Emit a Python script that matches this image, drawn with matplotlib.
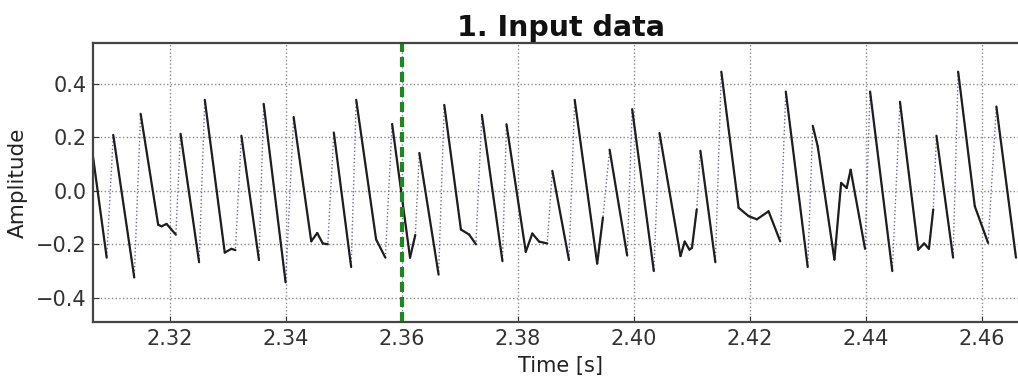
import numpy as np
import matplotlib
matplotlib.use("Agg")
import matplotlib.pyplot as plt

# knot points of the signal
# rise = 1 means the segment leading into this point is a fast upstroke
t = [2.30675, 2.30911, 2.31024, 2.31386, 2.31496, 2.31798, 2.31858, 2.31943,
     2.32103, 2.32184, 2.32504, 2.32602, 2.32946, 2.33061, 2.33130, 2.33233,
     2.33536, 2.33617, 2.33995, 2.34133, 2.34437, 2.34540, 2.34636, 2.34723,
     2.34826, 2.35125, 2.35212, 2.35555, 2.35715, 2.35831, 2.36140, 2.36231,
     2.36300, 2.36632, 2.36730, 2.37017, 2.37160, 2.37275, 2.37378, 2.37733,
     2.37802, 2.38135, 2.38248, 2.38364, 2.38506, 2.38593, 2.38880, 2.38978,
     2.39366, 2.39465, 2.39580, 2.39883, 2.39969, 2.40342, 2.40440, 2.40802,
     2.40875, 2.40956, 2.41000, 2.41082, 2.41145, 2.41403, 2.41506, 2.41804,
     2.41976, 2.42118, 2.42320, 2.42521, 2.42617, 2.42995, 2.43082, 2.43168,
     2.43455, 2.43571, 2.43667, 2.43735, 2.43983, 2.44070, 2.44453, 2.44585,
     2.44899, 2.45002, 2.45084, 2.45159, 2.45214, 2.45501, 2.45588, 2.45875,
     2.46104, 2.46247, 2.46585]
amp = [0.127, -0.250, 0.208, -0.324, 0.287, -0.127, -0.133, -0.124,
       -0.164, 0.212, -0.267, 0.339, -0.231, -0.217, -0.222, 0.205,
       -0.259, 0.324, -0.342, 0.275, -0.189, -0.158, -0.197, -0.200,
       0.217, -0.285, 0.339, -0.182, -0.250, 0.249, -0.250, -0.165,
       0.141, -0.313, 0.320, -0.145, -0.164, -0.200, 0.283, -0.263,
       0.248, -0.228, -0.160, -0.190, -0.197, 0.074, -0.259, 0.339,
       -0.272, -0.100, 0.153, -0.242, 0.304, -0.300, 0.215, -0.244,
       -0.190, -0.220, -0.213, -0.070, 0.149, -0.267, 0.444, -0.064,
       -0.095, -0.107, -0.077, -0.189, 0.370, -0.285, 0.242, 0.165,
       -0.257, 0.029, 0.010, 0.078, -0.217, 0.370, -0.300, 0.332,
       -0.220, -0.197, -0.217, -0.070, 0.205, -0.250, 0.444, -0.058,
       -0.195, 0.314, -0.250]
rise = [0, 0, 1, 0, 1, 0, 0, 0,
        0, 1, 0, 1, 0, 0, 0, 1,
        0, 1, 0, 1, 0, 0, 0, 0,
        1, 0, 1, 0, 0, 1, 0, 0,
        1, 0, 1, 0, 0, 0, 1, 0,
        1, 0, 0, 0, 0, 1, 0, 1,
        0, 0, 1, 0, 1, 0, 1, 0,
        0, 0, 0, 0, 1, 0, 1, 0,
        0, 0, 0, 0, 1, 0, 1, 0,
        0, 0, 0, 0, 0, 1, 0, 1,
        0, 0, 0, 0, 1, 0, 1, 0,
        0, 1, 0]
marker_time = 2.36
xticks = [2.32, 2.34, 2.36, 2.38, 2.40, 2.42, 2.44, 2.46]
yticks = [-0.4, -0.2, 0.0, 0.2, 0.4]

t = np.array(t)
amp = np.array(amp)
rise = np.array(rise)

fig = plt.figure(figsize=(10.18, 3.77), dpi=100)
ax = fig.add_axes([0.0917, 0.1467, 0.918, 0.7384])

# whole trace thin and dotted (shows the upstrokes), then the slow parts solid
ax.plot(t, amp, color="#6a6aaa", ls=":", lw=1.0)
for i in range(1, len(t)):
    if not rise[i]:
        ax.plot(t[i - 1:i + 1], amp[i - 1:i + 1], color="#1e1e1e", lw=1.6,
                solid_capstyle="round", solid_joinstyle="round")

ax.axvline(marker_time, color="#1a8a1a", ls="--", lw=3, dashes=(2.4, 1.2))

ax.set_xlim(2.30681, 2.4679)
ax.set_ylim(-0.489, 0.55)
ax.set_xticks(xticks)
ax.set_yticks(yticks)
ax.set_xticklabels(["%.2f" % v for v in xticks])
ax.set_yticklabels(["%.1f" % v if v >= 0 else "\u2212%.1f" % -v for v in yticks])
ax.tick_params(direction="in", length=4, labelsize=15, pad=5, colors="#333333")
ax.grid(True, color="#8a8a8a", ls=":", lw=1.0)

for s in ax.spines.values():
    s.set_color("#444444")
    s.set_linewidth(1.6)

ax.set_title("1. Input data", fontsize=20.5, fontweight="bold", pad=5,
             color="#111111")
ax.set_xlabel("Time [s]", fontsize=15, labelpad=5, color="#222222")
ax.set_ylabel("Amplitude", fontsize=15.5, labelpad=6, color="#222222")

fig.savefig("out.png", dpi=100)
